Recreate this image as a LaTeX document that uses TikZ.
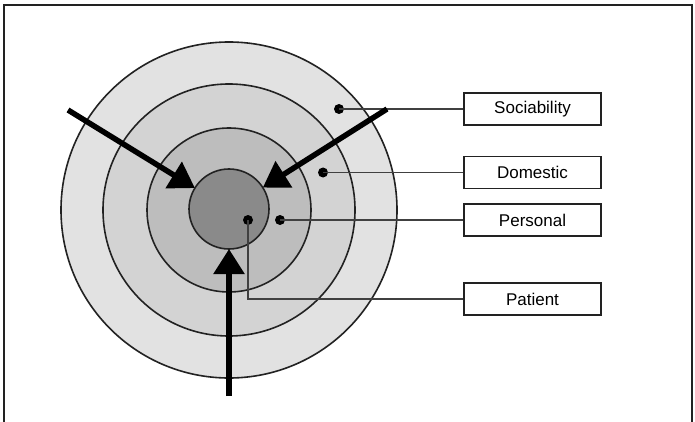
\documentclass[tikz,border=0pt]{standalone}
\usepackage{fontspec}
\setmainfont{Liberation Sans}
\usetikzlibrary{arrows.meta}
\definecolor{ringA}{HTML}{E2E2E2}
\definecolor{ringB}{HTML}{D3D3D3}
\definecolor{ringC}{HTML}{BDBDBD}
\definecolor{ringD}{HTML}{8A8A8A}
\definecolor{edge}{HTML}{222222}
\definecolor{leader}{HTML}{404040}
\tikzset{
  ring/.style={circle, draw=edge, line width=1.6pt, inner sep=0pt, outer sep=0pt, minimum size=#1},
  labelbox/.style={draw=edge, line width=1.6pt, fill=white, minimum width=137pt, minimum height=32pt, inner sep=0pt,
    font=\fontsize{17}{20}\selectfont},
  dotmark/.style={circle, fill=black, inner sep=0pt, minimum size=10pt},
  leaderline/.style={draw=leader, line width=1.8pt},
  bigarrow/.style={line width=5.5pt, -{Triangle[length=25pt,width=30pt]}, shorten >=0pt},
}
\begin{document}
\begin{tikzpicture}[x=1pt,y=-1pt]
\useasboundingbox (0,0) rectangle (695,422);
\fill[white] (0,0) rectangle (695,422);
\draw[edge, line width=2.5pt] (4,422) -- (4,5) -- (692,5) -- (692,422);
% rings
\node[ring=336pt, fill=ringA] (outer) at (229,210) {};
\node[ring=252pt, fill=ringB] (second) at (229,210) {};
\node[ring=164pt, fill=ringC] (third) at (229,210) {};
\node[ring=80pt, fill=ringD] (inner) at (229,209) {};
% boxes
\node[labelbox] (bsoc) at (532.5,109) {Sociability};
\node[labelbox] (bdom) at (532.5,172.5) {Domestic};
\node[labelbox] (bper) at (532.5,220) {Personal};
\node[labelbox] (bpat) at (532.5,299) {Patient};
% dots
\node[dotmark] (dsoc) at (339,109) {};
\node[dotmark] (ddom) at (323,172.5) {};
\node[dotmark] (dper) at (280,220) {};
\node[dotmark] (dpat) at (248,220) {};
% leaders
\draw[leaderline] (dsoc.center) -- (bsoc.west);
\draw[leaderline] (ddom.center) -- (bdom.west);
\draw[leaderline] (dper.center) -- (bper.west);
\draw[leaderline] (dpat.center) |- (bpat.west);
% arrows
\coordinate (a1) at (68,110);
\coordinate (a2) at (387,109);
\coordinate (a3) at (229,396);
\draw[bigarrow] (a1) -- (inner);
\draw[bigarrow] (a2) -- (inner);
\draw[bigarrow] (a3) -- (inner);
\end{tikzpicture}
\end{document}
